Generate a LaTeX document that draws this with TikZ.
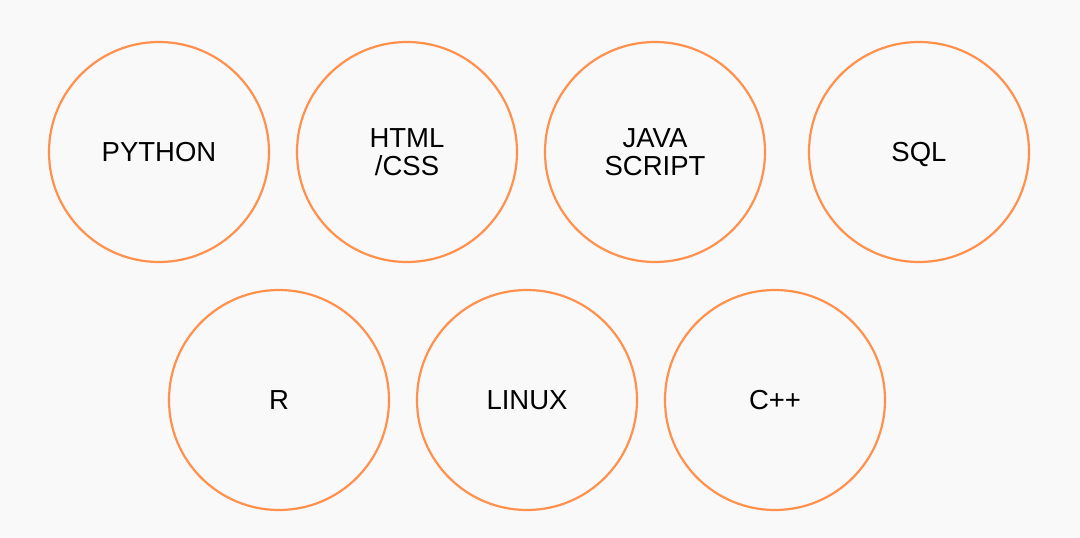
\documentclass[tikz,border=0pt]{standalone}
\usepackage{fontspec}
\setmainfont{Liberation Sans}
\definecolor{bg}{HTML}{F9F9F9}
\definecolor{ring}{HTML}{FF914D}
\begin{document}
\begin{tikzpicture}[x=1pt,y=1pt,
  skill/.style={circle, draw=ring, line width=2.2pt, minimum size=220pt, inner sep=0pt},
  lbl/.style={inner sep=0pt, anchor=base, align=center, text=black,
    font=\fontsize{27.5}{28}\selectfont}]
\fill[bg] (0,0) rectangle (1080,538);
\useasboundingbox (0,0) rectangle (1080,538);
\node[skill] (python) at (159,386) {};
\node[skill] (html) at (407,386) {};
\node[skill] (js) at (655,386) {};
\node[skill] (sql) at (919,386) {};
\node[skill] (r) at (279,138) {};
\node[skill] (linux) at (527,138) {};
\node[skill] (cpp) at (775,138) {};
\node[lbl, yshift=-9.8pt] (pythont) at (python.center) {PYTHON};
\node[lbl, yshift=-24pt] (htmlt) at (html.center) {HTML\\/CSS};
\node[lbl, yshift=-24pt] (jst) at (js.center) {JAVA\\SCRIPT};
\node[lbl, yshift=-9.8pt] (sqlt) at (sql.center) {SQL};
\node[lbl, yshift=-9.8pt] (rt) at (r.center) {R};
\node[lbl, yshift=-9.8pt] (linuxt) at (linux.center) {LINUX};
\node[lbl, yshift=-9.8pt] (cppt) at (cpp.center) {C++};
\end{tikzpicture}
\end{document}
